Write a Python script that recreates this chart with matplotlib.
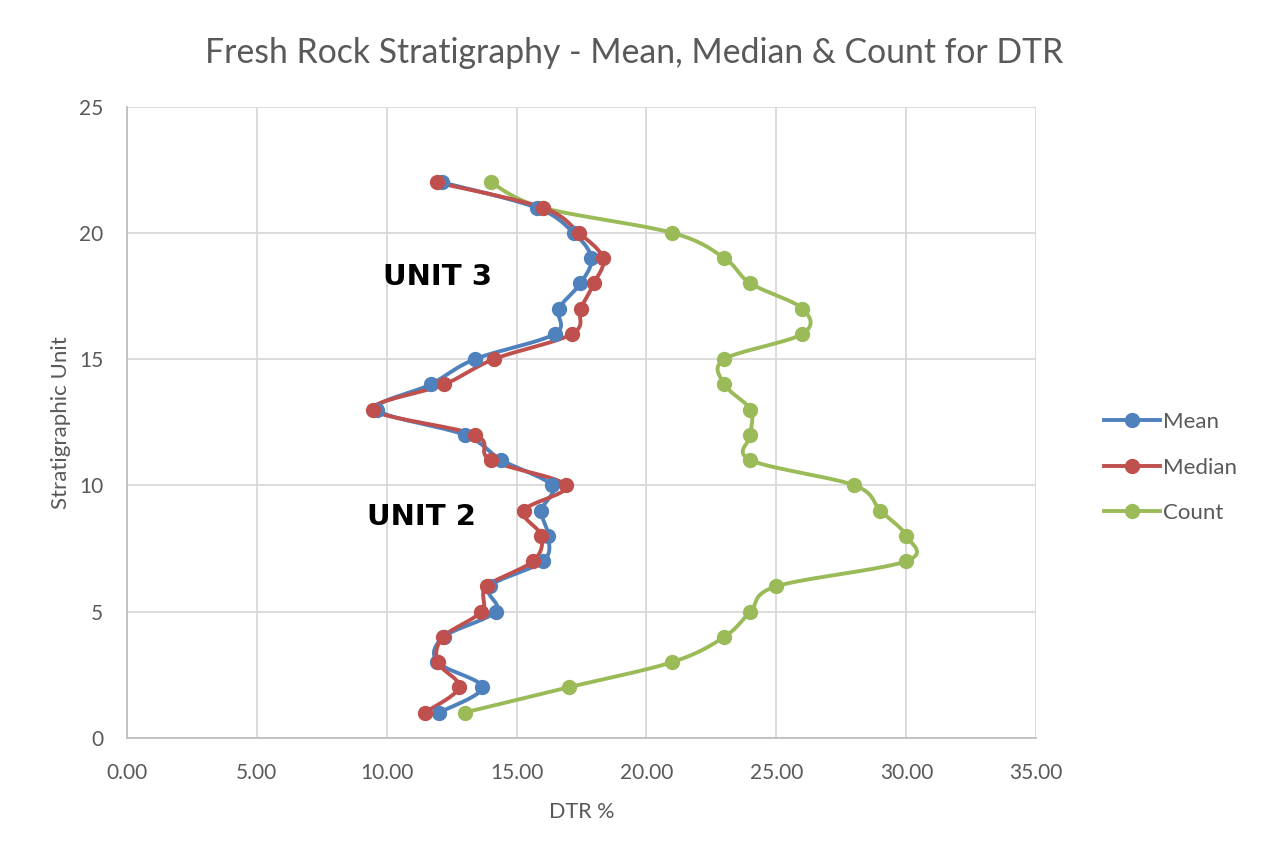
import numpy as np
import matplotlib
matplotlib.use("Agg")
import matplotlib.pyplot as plt
from matplotlib.lines import Line2D

plt.rcParams['font.family'] = ['Lato', 'DejaVu Sans']

units = [22, 21, 20, 19, 18, 17, 16, 15, 14, 13, 12, 11, 10, 9, 8, 7, 6, 5, 4, 3, 2, 1]
mean = [12.15, 15.77, 17.2, 17.88, 17.46, 16.63, 16.47, 13.4, 11.7, 9.64, 13.0,
        14.42, 16.35, 15.96, 16.22, 16.02, 13.97, 14.2, 12.2, 11.95, 13.68, 12.02]
median = [11.92, 16.0, 17.4, 18.33, 17.98, 17.47, 17.14, 14.13, 12.22, 9.49, 13.4,
          14.0, 16.9, 15.28, 15.96, 15.64, 13.85, 13.65, 12.18, 11.96, 12.79, 11.47]
count = [14, 16, 21, 23, 24, 26, 26, 23, 23, 24, 24, 24, 28, 29, 30, 30, 25, 24, 23, 21, 17, 13]

series_names = ["Mean", "Median", "Count"]
colors = ["#4F81BD", "#C0504D", "#9BBB59"]
x_ticks = [0, 5, 10, 15, 20, 25, 30, 35]
y_ticks = [0, 5, 10, 15, 20, 25]


def smooth(xs, ys, n=20):
    """Excel-like smoothed line rendering (Catmull-Rom through the points)."""
    P = np.column_stack([xs, ys]).astype(float)
    out = []
    for i in range(len(P) - 1):
        p0 = P[i - 1] if i > 0 else P[i]
        p1 = P[i]
        p2 = P[i + 1]
        p3 = P[i + 2] if i + 2 < len(P) else P[i + 1]
        c1 = p1 + (p2 - p0) / 6.0
        c2 = p2 - (p3 - p1) / 6.0
        t = np.linspace(0, 1, n)[:, None]
        seg = ((1 - t) ** 3) * p1 + 3 * ((1 - t) ** 2) * t * c1 + 3 * (1 - t) * t ** 2 * c2 + t ** 3 * p2
        out.append(seg if i == 0 else seg[1:])
    arr = np.vstack(out)
    return arr[:, 0], arr[:, 1]


fig = plt.figure(figsize=(12.61, 8.5), dpi=100)
ax = fig.add_axes([0.1005, 0.132, 0.7213, 0.7425])

for vals, c in zip([count, mean, median], [colors[2], colors[0], colors[1]]):
    sx, sy = smooth(vals, units)
    ax.plot(sx, sy, color=c, lw=2.8, solid_capstyle='round', zorder=3)
    ax.plot(vals, units, 'o', color=c, ms=10, zorder=4)

ax.set_xlim(0, 35)
ax.set_ylim(0, 25)
ax.set_xticks(x_ticks)
ax.set_xticklabels([f"{v:.2f}" for v in x_ticks])
ax.set_yticks(y_ticks)
ax.grid(True, color="#D9D9D9", lw=1.3)
ax.set_axisbelow(True)
for s in ['top', 'right']:
    ax.spines[s].set_visible(False)
ax.spines['left'].set_color("#BFBFBF")
ax.spines['bottom'].set_color("#BFBFBF")
ax.spines['left'].set_linewidth(1.3)
ax.spines['bottom'].set_linewidth(1.3)
ax.tick_params(length=0, labelsize=15, colors="#595959")
ax.tick_params(axis='x', pad=18)
ax.tick_params(axis='y', pad=17)

ax.set_xlabel("DTR %", fontsize=15.5, color="#595959", labelpad=14)
ax.set_ylabel("Stratigraphic Unit", fontsize=16, color="#595959", labelpad=6)

fig.text(0.503, 0.938, "Fresh Rock Stratigraphy - Mean, Median & Count for DTR",
         ha='center', va='center', fontsize=24.3, color="#595959")

ax.text(9.85, 18.25, "UNIT 3", fontsize=21, fontweight='heavy', color='black',
        family=['DejaVu Sans'], va='center', ha='left')
ax.text(9.25, 8.75, "UNIT 2", fontsize=21, fontweight='heavy', color='black',
        family=['DejaVu Sans'], va='center', ha='left')

handles = [Line2D([0], [0], color=c, lw=2.8, marker='o', ms=10) for c in colors]
leg = fig.legend(handles, series_names, loc='center left', bbox_to_anchor=(0.860, 0.450),
                 frameon=False, fontsize=16, handlelength=2.5, handletextpad=0.15,
                 labelspacing=1.15, labelcolor="#595959")

fig.savefig("out.png", dpi=100)
